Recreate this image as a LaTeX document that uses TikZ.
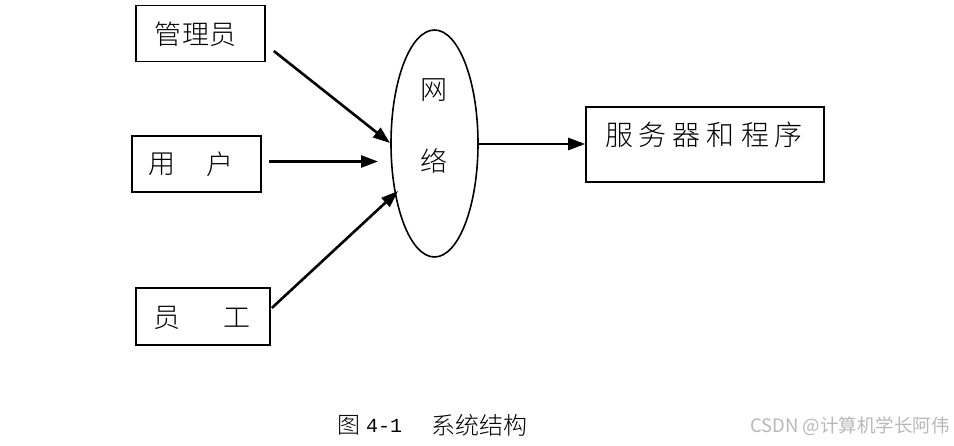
\documentclass[tikz,border=0pt]{standalone}
\usepackage{fontspec}
\setmainfont{Noto Sans CJK SC}
\newfontfamily\cjk{Noto Sans CJK SC Light}
\newfontfamily\monof{Liberation Mono}
\usetikzlibrary{arrows.meta,shapes.geometric}
\begin{document}
\begin{tikzpicture}[x=1pt,y=-1pt,
  box/.style={draw,line width=1.6pt,inner sep=0pt},
  arr/.style={line width=2.6pt,-{Triangle[length=17pt,width=12pt]}},
  lab/.style={font=\cjk\fontsize{27}{30}\selectfont,inner sep=0pt}]
\useasboundingbox (0,0) rectangle (954,446);
\fill[white] (0,0) rectangle (954,446);
\node[box,minimum width=129pt,minimum height=56pt] (a) at (200.5,33.5) {};
\node[lab] (at) at (195.5,34) {管\hspace{1pt}理\hspace{1pt}员};
\node[box,minimum width=129pt,minimum height=56pt] (u) at (196.5,164) {};
\node[lab] (ut1) at (161.5,164) {用};
\node[lab] (ut2) at (220,164) {户};
\node[box,minimum width=134pt,minimum height=57pt] (e) at (203,316.5) {};
\node[lab] (et1) at (166.5,318) {员};
\node[lab] (et2) at (236.5,318) {工};
\node[draw,ellipse,line width=1.6pt,minimum width=87pt,minimum height=227pt,inner sep=0pt] (n) at (434.5,143.5) {};
\node[lab] (nt1) at (434,90) {网};
\node[lab] (nt2) at (434,161) {络};
\node[box,minimum width=238pt,minimum height=75pt] (s) at (705,144.5) {};
\node[lab,font=\cjk\fontsize{28}{30}\selectfont] (st) at (704,135) {服\hspace{6pt}务\hspace{6pt}器\hspace{6pt}和\hspace{6pt}程\hspace{6pt}序};
\coordinate (ta) at (390,143);
\coordinate (tu) at (378,161.5);
\coordinate (te) at (398,191);
\draw[arr] ([xshift=8pt,yshift=-17.5pt]a.east) -- (ta);
\draw[arr] ([xshift=7pt,yshift=2.5pt]u.east) -- (tu);
\draw[arr] ([xshift=1pt,yshift=8.5pt]e.east) -- (te);
\draw[arr] ([yshift=-0.5pt]n.east) -- ([yshift=-0.5pt]n.east -| s.west);
\node[font=\cjk\fontsize{23}{26}\selectfont,inner sep=0pt] (cap1) at (348.5,425) {图};
\node[font=\monof\fontsize{20}{24}\selectfont,inner sep=0pt,anchor=west] (cap2) at (366,426) {4-1};
\node[font=\cjk\fontsize{24}{26}\selectfont,inner sep=0pt,anchor=west] (cap3) at (431,425) {系统结构};
\node[font=\fontspec{Noto Sans CJK SC}\fontsize{18.5}{20}\selectfont,text=black!28,inner sep=0pt,anchor=east] (wm) at (950,426) {CSDN @计算机学长阿伟};
\end{tikzpicture}
\end{document}
